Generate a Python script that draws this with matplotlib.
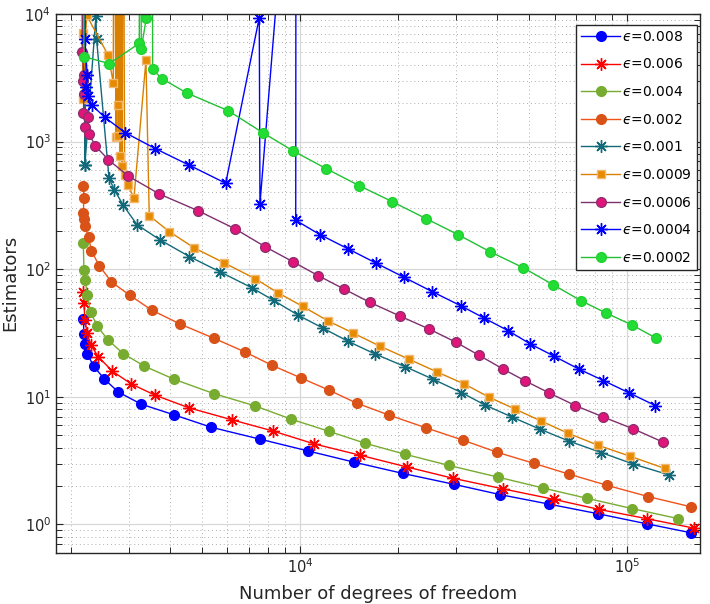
import numpy as np
import matplotlib
matplotlib.use("Agg")
import matplotlib.pyplot as plt
from matplotlib.ticker import LogLocator, NullFormatter

# ---------------- data ----------------
labels = ["0.008", "0.006", "0.004", "0.002", "0.001", "0.0009", "0.0006", "0.0004", "0.0002"]

x_008 = [2175, 2185, 2200, 2236, 2339, 2521, 2782, 3272, 4127, 5355, 7559, 10602, 14660,
         20610, 29580, 40970, 57860, 81720, 114900, 156600]
y_008 = [40.9, 30.8, 25.7, 21.8, 17.4, 13.8, 10.9, 8.75, 7.21, 5.77, 4.65, 3.76, 3.07,
         2.51, 2.06, 1.71, 1.44, 1.21, 1.01, 0.86]

x_006 = [2165, 2185, 2200, 2232, 2296, 2417, 2667, 3050, 3603, 4586, 6209, 8251, 11060,
         15290, 21200, 29310, 41670, 59820, 82130, 114600, 159900]
y_006 = [66.2, 54.6, 40.1, 31.6, 25.4, 20.6, 15.9, 12.6, 10.3, 8.18, 6.59, 5.40, 4.27,
         3.48, 2.82, 2.30, 1.90, 1.57, 1.31, 1.11, 0.935]

x_004 = [2175, 2185, 2205, 2236, 2291, 2400, 2593, 2881, 3342, 4127, 5447, 7298, 9406,
         12240, 15840, 20990, 28490, 40230, 55240, 75460, 103600, 143200]
y_004 = [160.6, 99.1, 82.3, 62.7, 46.0, 35.7, 27.8, 21.8, 17.4, 13.7, 10.6, 8.48, 6.67,
         5.37, 4.32, 3.54, 2.90, 2.35, 1.93, 1.60, 1.33, 1.11]

x_002 = [2175, 2185, 2175, 2185, 2196, 2258, 2303, 2434, 2651, 3012, 3520, 4305, 5447,
         6804, 8229, 10100, 12240, 14910, 18760, 24330, 31580, 40120, 51840, 66620,
         87050, 116200, 157300]
y_002 = [452, 362, 276, 248, 219, 178, 139, 106.5, 79.5, 62.7, 47.8, 37.1, 28.8,
         22.4, 17.6, 14.0, 11.3, 8.91, 7.17, 5.70, 4.56, 3.67, 3.01, 2.47,
         2.02, 1.65, 1.37]

x_001 = [2185, 2200, 2190, 2200, 2377, 2389, 2606, 2704, 2881, 3174, 3724, 4593, 5702,
         7147, 8299, 9840, 11730, 13990, 16920, 20990, 25560, 31140, 36870, 44400,
         54190, 66620, 83460, 104500, 133800]
y_001 = [1e6, 653, 1e6, 653, 9650, 6327, 520, 421, 317, 223.5, 170.4, 125.4, 95.2,
         71.2, 57.0, 43.8, 34.6, 27.3, 21.7, 17.2, 13.7, 10.8, 8.59, 6.95,
         5.57, 4.48, 3.65, 2.97, 2.45]

x_0009 = [2165, 2165, 2165, 2227, 2593, 2686, 2700, 2737, 2750, 2770, 2775, 2782, 2800,
          2821, 2840, 2861, 2880, 2910, 2979, 3107, 3381, 3460, 3984, 4752, 5868, 7298,
          8583, 10190, 12210, 14530, 17570, 21540, 26300, 31800, 37840, 45530, 54700,
          65990, 81540, 102100, 130100]
y_0009 = [1e6, 7145, 2140, 9770, 4740, 2894, 1e6, 1083, 1e6, 1920, 1e6, 1102, 1e6,
          774, 1e6, 649, 1e6, 552, 458, 362, 4330, 263, 197, 146.7, 111.9, 84.2,
          65.1, 51.1, 39.2, 31.6, 24.9, 19.7, 15.6, 12.6, 9.93, 7.99, 6.44,
          5.18, 4.17, 3.42, 2.75]

x_0006 = [2159, 2159, 2185, 2165, 2185, 2177, 2252, 2200, 2268, 2361, 2597, 2985, 3712,
          4867, 6340, 7816, 9539, 11350, 13630, 16370, 20220, 24860, 29940, 35200,
          41760, 48870, 57860, 69490, 84470, 104500, 129100]
y_0006 = [1e6, 5070, 3302, 2963, 2372, 1683, 1565, 1297, 1153, 932, 720, 537, 389,
          288, 206.8, 150.2, 113.9, 89.2, 69.9, 54.9, 42.9, 33.9, 26.8, 21.2,
          16.5, 13.3, 10.7, 8.53, 6.95, 5.60, 4.40]

x_0004 = [2200, 2200, 2236, 2211, 2247, 2316, 2533, 2927, 3615, 4586, 5928, 7506, 7544,
          9722, 9703, 11510, 14030, 17080, 20800, 25330, 31000, 36530, 43350, 50500,
          59820, 71170, 84640, 101600, 122000]
y_0004 = [1e6, 6412, 3302, 2683, 2260, 1920, 1546, 1172, 880, 653, 471.6, 9370, 326.6,
          1e6, 241.6, 186.6, 144.3, 111.6, 86.4, 66.8, 51.7, 41.4, 32.9, 26.0,
          20.8, 16.5, 13.4, 10.7, 8.53]

x_0002 = [2185, 2185, 2611, 3226, 3240, 3272, 3388, 3530, 3544, 3784, 4503, 6037, 7724,
          9539, 12010, 15150, 19110, 24290, 30420, 38110, 48080, 59400, 72320, 86260,
          103600, 122700]
y_0002 = [1e6, 4630, 4088, 5890, 1e6, 5350, 9250, 1e6, 3681, 3112, 2407, 1745, 1168,
          844, 615, 452, 339, 249, 186.6, 137, 102.8, 75.5, 56.6, 45.3,
          36.5, 28.8]

xs = [x_008, x_006, x_004, x_002, x_001, x_0009, x_0006, x_0004, x_0002]
ys = [y_008, y_006, y_004, y_002, y_001, y_0009, y_0006, y_0004, y_0002]

# ---------------- styles ----------------
star = (8, 2, 0)
styles = [
    dict(color="#0000FF", marker="o", mfc="#0000FF", mec="#0000FF", ms=7),
    dict(color="#FF0000", marker=star, mfc="#FF0000", mec="#FF0000", ms=9),
    dict(color="#77AC30", marker="o", mfc="#77AC30", mec="#77AC30", ms=7),
    dict(color="#F0521A", marker="o", mfc="#D95319", mec="#D95319", ms=7),
    dict(color="#12697A", marker=star, mfc="#12697A", mec="#12697A", ms=9),
    dict(color="#D98000", marker="s", mfc="#E68A00", mec="#F2B870", ms=6),
    dict(color="#7E2F6E", marker="o", mfc="#E0157A", mec="#8E2F6E", ms=7),
    dict(color="#0000FF", marker=star, mfc="#0000FF", mec="#0000FF", ms=9),
    dict(color="#22C033", marker="o", mfc="#22DD33", mec="#22D033", ms=7),
]

fig = plt.figure(figsize=(7.10, 6.04), dpi=100)
ax = fig.add_axes([56 / 710, 1 - 552.7 / 604, 644 / 710, (552.7 - 14) / 604])

for x, y, lab, st in zip(xs, ys, labels, styles):
    ax.plot(x, y, lw=1.0, mew=1.0, label="$\u03f5$=" + lab, **st)

ax.set_xscale("log")
ax.set_yscale("log")
ax.set_xlim(1795, 167000)
ax.set_ylim(0.6, 1e4)

ax.xaxis.set_major_locator(LogLocator(base=10, numticks=20))
ax.xaxis.set_minor_locator(LogLocator(base=10, subs=np.arange(2, 10), numticks=20))
ax.yaxis.set_major_locator(LogLocator(base=10, numticks=20))
ax.yaxis.set_minor_locator(LogLocator(base=10, subs=np.arange(2, 10), numticks=20))
ax.xaxis.set_minor_formatter(NullFormatter())
ax.yaxis.set_minor_formatter(NullFormatter())

ax.grid(True, which="major", color="#d8d8d8", lw=0.9, ls="-")
ax.grid(True, which="minor", color="#b0b0b0", lw=0.7, ls=(0, (1, 3)))
ax.set_axisbelow(True)

ax.tick_params(which="both", direction="in", top=True, right=True, colors="#262626",
               labelsize=10.5, labelcolor="#262626")
ax.tick_params(which="major", length=5, width=0.8)
ax.tick_params(which="minor", length=4, width=0.7)
for sp in ax.spines.values():
    sp.set_color("#262626")
    sp.set_linewidth(1.0)

ax.set_xlabel("Number of degrees of freedom", fontsize=13, color="#262626", labelpad=6)
ax.set_ylabel("Estimators", fontsize=13, color="#262626", labelpad=4)

leg = ax.legend(loc="upper right", bbox_to_anchor=(0.9953, 0.9796), borderaxespad=0,
                fontsize=10, frameon=True, fancybox=False, edgecolor="#262626",
                framealpha=1, handlelength=2.8, handletextpad=0.15, labelspacing=0.98,
                borderpad=0.35)
leg.get_frame().set_linewidth(1.0)

fig.savefig("out.png", dpi=100)
